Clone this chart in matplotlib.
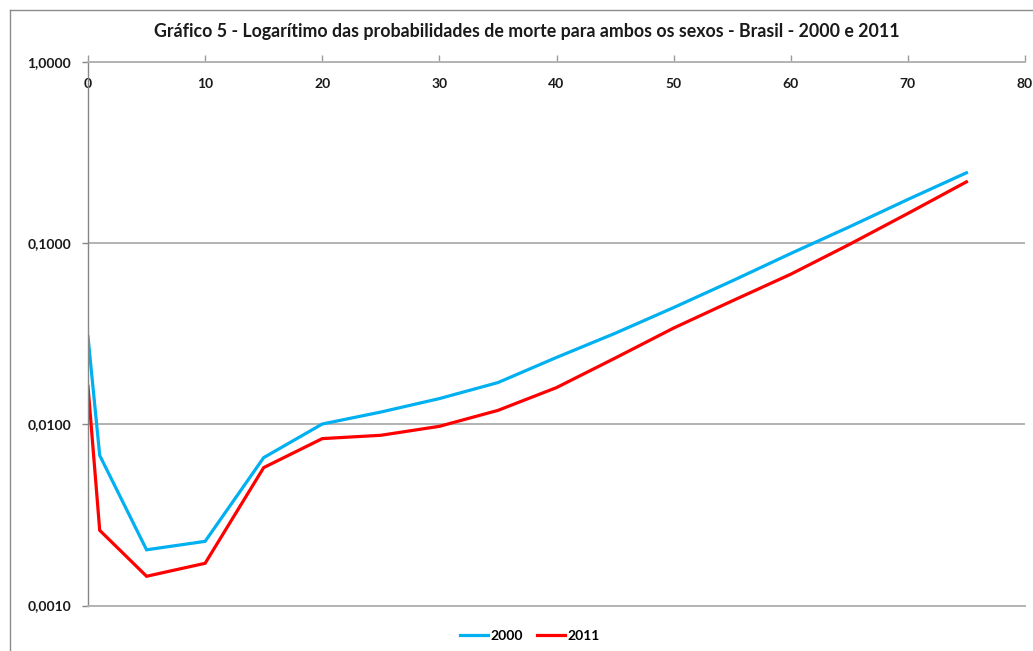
import matplotlib
matplotlib.use("Agg")
import matplotlib.pyplot as plt
from matplotlib.lines import Line2D

plt.rcParams['font.family'] = ['Lato', 'DejaVu Sans']

ages = [0, 1, 5, 10, 15, 20, 25, 30, 35, 40, 45, 50, 55, 60, 65, 70, 75]
q2000 = [0.0304, 0.00674, 0.00203, 0.00226, 0.00655, 0.01004, 0.01169, 0.01387,
         0.0170, 0.0234, 0.0318, 0.0441, 0.0619, 0.0877, 0.1230, 0.1743, 0.2446]
q2011 = [0.0162, 0.00260, 0.00145, 0.00171, 0.00577, 0.00834, 0.00870, 0.00975,
         0.01194, 0.01595, 0.0232, 0.0340, 0.0480, 0.0674, 0.0984, 0.1459, 0.2180]
series_names = ["2000", "2011"]
x_ticks = [0, 10, 20, 30, 40, 50, 60, 70, 80]
y_ticks = [0.001, 0.01, 0.1, 1.0]
y_ticklabels = ["0,0010", "0,0100", "0,1000", "1,0000"]
title = "Gráfico 5 - Logarítimo das probabilidades de morte para ambos os sexos - Brasil - 2000 e 2011"

W, H = 1033, 651
fig = plt.figure(figsize=(W / 100, H / 100), dpi=100)
ax = fig.add_axes([88 / W, 1 - 605.5 / H, (1025 - 88) / W, (605.5 - 62) / H])

ax.plot(ages, q2000, color="#00B0F0", lw=2.3, label=series_names[0], solid_joinstyle="miter")
ax.plot(ages, q2011, color="#FF0000", lw=2.3, label=series_names[1], solid_joinstyle="miter")

ax.set_yscale("log")
ax.set_ylim(0.001, 1.0)
ax.set_xlim(0, 80)
ax.set_yticks(y_ticks)
ax.set_yticklabels(y_ticklabels)
ax.yaxis.set_minor_locator(matplotlib.ticker.NullLocator())
ax.set_xticks(x_ticks)
ax.set_xticklabels([str(v) for v in x_ticks])

ax.xaxis.tick_top()
ax.tick_params(axis="x", which="major", direction="out", length=5, width=1,
               color="#9a9a9a", pad=-25, labelsize=10)
ax.tick_params(axis="y", which="major", direction="out", length=4, width=1,
               color="#868686", pad=8, labelsize=10)
for lbl in ax.get_xticklabels() + ax.get_yticklabels():
    lbl.set_fontweight("bold")
    lbl.set_color("#1a1a1a")

ax.grid(axis="y", color="#b3b3b3", lw=1.4)
ax.set_axisbelow(True)
ax.spines["right"].set_visible(False)
ax.spines["top"].set_color("#b3b3b3")
ax.spines["top"].set_linewidth(1.4)
ax.spines["bottom"].set_color("#b3b3b3")
ax.spines["bottom"].set_linewidth(1.4)
ax.spines["left"].set_color("#868686")
ax.spines["left"].set_linewidth(1.0)

fig.text(527 / W, 1 - 32 / H, title, ha="center", va="center",
         fontsize=12.8, fontweight="bold", color="#1a1a1a")

leg = ax.legend(loc="center", bbox_to_anchor=(530 / W, 1 - 636 / H),
                bbox_transform=fig.transFigure, ncol=2, frameon=False,
                prop={"weight": "bold", "size": 10}, handlelength=2.0,
                handletextpad=0.2, columnspacing=1.0)

# outer chart border (top and left edges visible)
fig.add_artist(Line2D([10 / W, 10 / W], [1 - 10 / H, 0], color="#8c8c8c", lw=1))
fig.add_artist(Line2D([10 / W, 1], [1 - 10 / H, 1 - 10 / H], color="#8c8c8c", lw=1))

fig.savefig("out.png", dpi=100)
